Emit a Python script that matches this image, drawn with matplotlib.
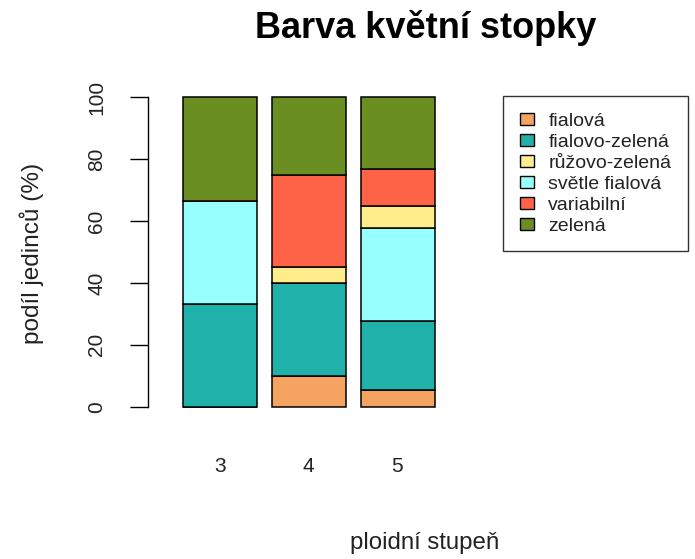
import numpy as np
import matplotlib.pyplot as plt
from matplotlib.patches import Patch

plt.rcParams['font.family'] = ['Liberation Sans', 'DejaVu Sans']

# ploidy levels and colour categories (percent of individuals)
ploidie = ['3', '4', '5']
kategorie = ['fialová', 'fialovo-zelená', 'růžovo-zelená', 'světle fialová', 'variabilní', 'zelená']
barvy = ['#F4A460', '#20B2AA', '#FFEC8B', '#98FFFF', '#FF6347', '#6B8E23']

fialova = [0.0, 10.0, 5.4]
fialovo_zelena = [33.3, 30.0, 22.4]
ruzovo_zelena = [0.0, 5.0, 7.1]
svetle_fialova = [33.3, 0.0, 29.9]
variabilni = [0.0, 30.0, 12.2]
zelena = [33.4, 25.0, 23.0]

data = dict(zip(kategorie, [fialova, fialovo_zelena, ruzovo_zelena,
                            svetle_fialova, variabilni, zelena]))
barva = dict(zip(kategorie, barvy))
# stacking order from the bottom
poradi = ['fialová', 'fialovo-zelená', 'světle fialová', 'růžovo-zelená', 'variabilní', 'zelená']

W, H = 695, 559
fig = plt.figure(figsize=(W / 100, H / 100), dpi=100)
# plot region in pixels: left 148, right 695, top 85, bottom 419
ax = fig.add_axes([148 / W, 1 - 419 / H, (695 - 148) / W, (419 - 85) / H])

x = np.array([0.7, 1.9, 3.1])
bottom = np.zeros(3)
for k in poradi:
    vals = np.array(data[k])
    ax.bar(x, vals, width=1.0, bottom=bottom, color=barva[k], edgecolor='black',
           linewidth=1.1)
    bottom += vals

ax.set_xlim(-0.268, 7.104)
ax.set_ylim(-4, 104)

for s in ['top', 'right', 'bottom']:
    ax.spines[s].set_visible(False)
ax.spines['left'].set_bounds(0, 100)
ax.spines['left'].set_linewidth(1.0)
ax.set_yticks([0, 20, 40, 60, 80, 100])
ax.set_yticklabels(['0', '20', '40', '60', '80', '100'], rotation=90, va='center',
                   fontsize=15, color='#222222')
ax.tick_params(axis='y', length=13, width=1.0, pad=17)
ax.set_xticks([])

for xi, lab in zip([220, 308, 397], ploidie):
    fig.text(xi / W, 1 - 467 / H, lab, ha='center', va='center', fontsize=15, color='#222222')

fig.text(425 / W, 1 - 543 / H, 'ploidní stupeň', ha='center', va='center', fontsize=17.3,
         color='#222222')
fig.text(32 / W, 1 - 253 / H, 'podíl jedinců (%)', ha='center', va='center', rotation=90,
         fontsize=17.6, color='#222222')
fig.text(426 / W, 1 - 28 / H, 'Barva květní stopky', ha='center', va='center',
         fontsize=26, fontweight='bold')

handles = [Patch(facecolor=barva[k], edgecolor='black', linewidth=1.0) for k in kategorie]
leg = fig.legend(handles, kategorie, loc='upper left',
                 bbox_to_anchor=(503 / W, 1 - 96 / H), fontsize=14,
                 frameon=True, fancybox=False, edgecolor='black',
                 handlelength=0.72, handleheight=0.62, handletextpad=0.76,
                 labelspacing=0.2, borderpad=0.85, borderaxespad=0)
leg.get_frame().set_linewidth(1.0)
for t in leg.get_texts():
    t.set_color('#222222')

fig.savefig('out.png', dpi=100)
